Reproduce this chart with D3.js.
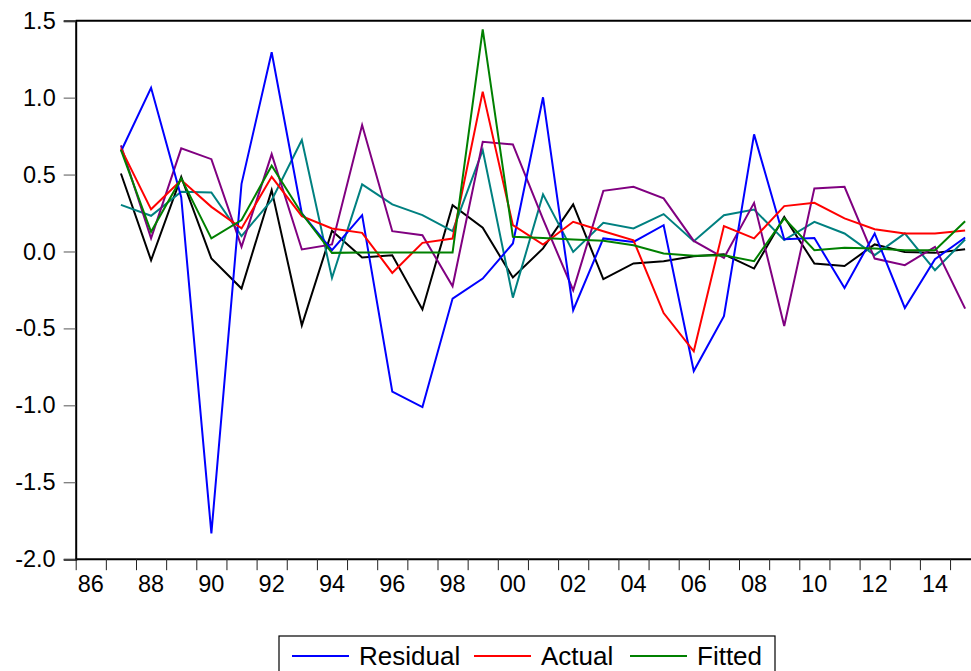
<!DOCTYPE html>
<html>
<head>
<meta charset="utf-8">
<script src="https://cdn.jsdelivr.net/npm/d3@7"></script>
<style>
    body { margin: 0; background: #fff; }
    svg { display: block; }
    text { font-family: "Liberation Sans", Arial, sans-serif; }
</style>
</head>
<body>
<svg id="canvas" width="971" height="671"></svg>
<script>

var years = d3.range(1987, 2016);

var residual = [0.65, 1.064, 0.353, -1.833, 0.44, 1.295, 0.247, 0.008, 0.236, -0.911,
    -1.011, -0.306, -0.176, 0.052, 1.002, -0.382, 0.085, 0.062, 0.171, -0.777,
    -0.421, 0.761, 0.08, 0.087, -0.237, 0.117, -0.367, -0.05, 0.091];

var actual = [0.67, 0.274, 0.464, 0.29, 0.15, 0.485, 0.23, 0.15, 0.121, -0.139,
    0.056, 0.084, 1.039, 0.171, 0.045, 0.193, 0.132, 0.073, -0.40, -0.649,
    0.165, 0.085, 0.295, 0.316, 0.215, 0.145, 0.117, 0.117, 0.137];

var fitted = [0.66, 0.128, 0.475, 0.085, 0.204, 0.557, 0.247, -0.009, -0.007, -0.006,
    -0.006, -0.006, 1.444, 0.095, 0.087, 0.078, 0.069, 0.041, -0.013, -0.028,
    -0.024, -0.063, 0.215, 0.008, 0.024, 0.02, 0.008, 0.008, 0.197];

var teal = [0.303, 0.232, 0.388, 0.384, 0.10, 0.334, 0.724, -0.172, 0.436, 0.306,
    0.236, 0.132, 0.659, -0.30, 0.371, -0.003, 0.186, 0.15, 0.243, 0.067,
    0.236, 0.273, 0.074, 0.193, 0.117, -0.024, 0.117, -0.122, 0.078];

var purple = [0.69, 0.085, 0.67, 0.60, 0.03, 0.633, 0.013, 0.046, 0.822, 0.132,
    0.106, -0.226, 0.713, 0.696, 0.21, -0.252, 0.394, 0.42, 0.345, 0.069,
    -0.042, 0.316, -0.484, 0.41, 0.42, -0.046, -0.089, 0.03, -0.371];

var black = [0.507, -0.057, 0.485, -0.046, -0.241, 0.399, -0.48, 0.134, -0.039, -0.024,
    -0.377, 0.301, 0.154, -0.169, 0.02, 0.306, -0.18, -0.078, -0.063, -0.031,
    -0.018, -0.111, 0.225, -0.078, -0.094, 0.046, -0.003, -0.009, 0.015];

var yTicks = [-2.0, -1.5, -1.0, -0.5, 0.0, 0.5, 1.0, 1.5];
var xLabelYears = d3.range(1986, 2016, 2);

var series = [
    { name: 'black', values: black, color: '#000000' },
    { name: 'teal', values: teal, color: '#008080' },
    { name: 'purple', values: purple, color: '#800080' },
    { name: 'Residual', values: residual, color: '#0000ff' },
    { name: 'Actual', values: actual, color: '#ff0000' },
    { name: 'Fitted', values: fitted, color: '#008000' }
];

var legendItems = ['Residual', 'Actual', 'Fitted'];

function render() {

    var svg = d3.select('#canvas');

    var left = 75.7, top = 20.7, bottom = 559.2;

    var x = d3.scaleLinear()
        .domain([1986, 2016])
        .range([left, 980.2]);

    var y = d3.scaleLinear()
        .domain([-2, 1.5])
        .range([bottom, top]);

    // top frame line
    svg.append('line')
        .attr('x1', left)
        .attr('x2', 971)
        .attr('y1', top)
        .attr('y2', top)
        .attr('stroke', '#000')
        .attr('stroke-width', 2);

    // y axis
    var yAxis = svg.append('g')
        .attr('transform', 'translate(' + left + ',0)')
        .call(d3.axisLeft(y)
            .tickValues(yTicks)
            .tickSize(12)
            .tickPadding(8)
            .tickFormat(function(d) {
                return d.toFixed(1);
            }));

    yAxis.select('.domain')
        .attr('stroke-width', 2);
    yAxis.selectAll('.tick line')
        .attr('stroke', '#555');
    yAxis.selectAll('text')
        .attr('font-size', 23.5)
        .attr('fill', '#000');

    // x axis: a tick on every year
    var xAxis = svg.append('g')
        .attr('transform', 'translate(0,' + bottom + ')')
        .call(d3.axisBottom(x)
            .tickValues(d3.range(1986, 2016))
            .tickSize(11)
            .tickFormat(''));

    xAxis.select('.domain')
        .attr('d', 'M' + left + ',0H971')
        .attr('stroke-width', 2);
    xAxis.selectAll('.tick line')
        .attr('stroke', '#222');

    // x labels sit in the middle of each even year
    svg.append('g')
        .selectAll('text')
        .data(xLabelYears)
        .enter()
        .append('text')
        .attr('x', function(d) {
            return x(d + 0.5);
        })
        .attr('y', 592)
        .attr('text-anchor', 'middle')
        .attr('font-size', 23.5)
        .text(function(d) {
            return String(d % 100).padStart(2, '0');
        });

    var line = d3.line()
        .x(function(d, i) {
            return x(years[i] + 0.5);
        })
        .y(function(d) {
            return y(d);
        });

    svg.append('g')
        .selectAll('path')
        .data(series)
        .enter()
        .append('path')
        .attr('d', function(d) {
            return line(d.values);
        })
        .attr('fill', 'none')
        .attr('stroke', function(d) {
            return d.color;
        })
        .attr('stroke-width', 2)
        .attr('stroke-linejoin', 'miter');

    // legend
    var legend = svg.append('g');

    legend.append('rect')
        .attr('x', 279)
        .attr('y', 636)
        .attr('width', 496)
        .attr('height', 50)
        .attr('fill', '#fff')
        .attr('stroke', '#000')
        .attr('stroke-width', 1.2);

    var legendX = [292, 474, 630];

    legendItems.forEach(function(name, i) {
        var s = series.find(function(d) {
            return d.name === name;
        });
        legend.append('line')
            .attr('x1', legendX[i])
            .attr('x2', legendX[i] + 57)
            .attr('y1', 656)
            .attr('y2', 656)
            .attr('stroke', s.color)
            .attr('stroke-width', 2);
        legend.append('text')
            .attr('x', legendX[i] + 67)
            .attr('y', 665)
            .attr('font-size', 26)
            .text(name);
    });
}

render();

</script>
</body>
</html>
